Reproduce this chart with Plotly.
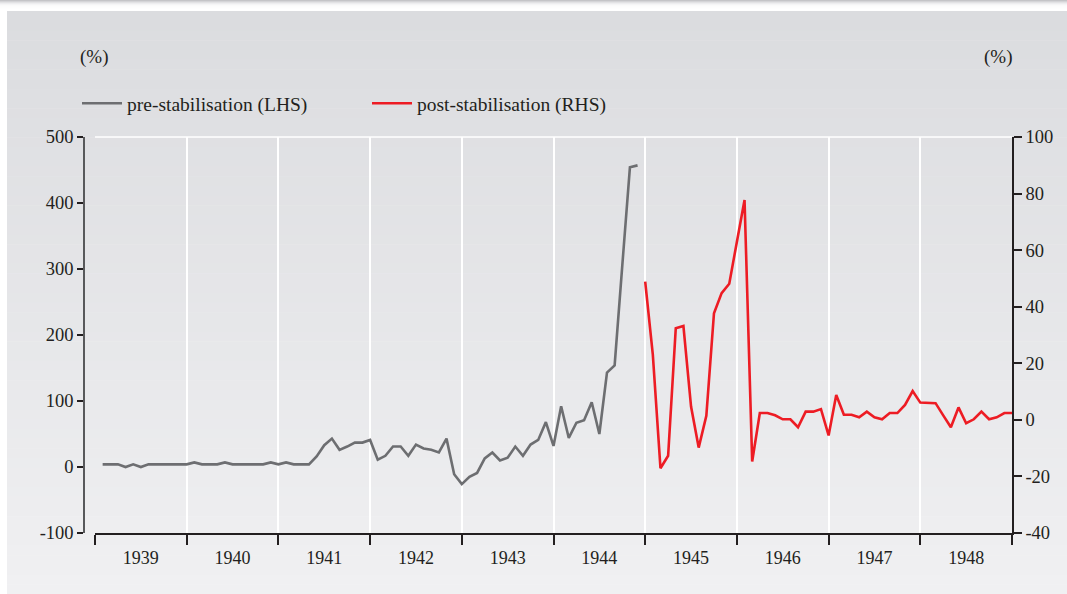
import plotly.graph_objects as go

# ---- data ----
years = ["1939", "1940", "1941", "1942", "1943", "1944", "1945", "1946", "1947", "1948"]

pre_months = list(range(1, 72))
pre_values = [4, 4, 4, 0, 4, 0, 4, 4, 4, 4, 4, 4,
              7, 4, 4, 4, 7, 4, 4, 4, 4, 4, 7, 4,
              7, 4, 4, 4, 16, 33, 43, 26, 31, 37, 37, 41,
              11, 17, 31, 31, 17, 34, 28, 26, 22, 43, -11, -26,
              -15, -9, 13, 22, 10, 14, 31, 17, 34, 41, 68, 32,
              92, 44, 67, 71, 98, 50, 143, 154, 305, 454, 457]

post_months = list(range(72, 121))
post_values = [48.9, 23, -17.1, -12.7, 32.4, 33.2, 4.7, -9.8, 1.4, 37.7, 44.8, 48.1,
               63, 77.7, -14.7, 2.4, 2.4, 1.6, 0.2, 0.2, -2.6, 2.9, 2.9, 3.8,
               -5.5, 8.8, 1.8, 1.8, 0.9, 2.9, 0.9, 0.2, 2.4, 2.4, 5.3, 10.2,
               6.1, 6.1, 5.9, 1.6, -2.6, 4.4, -1.2, 0.2, 2.9, 0.2, 0.9, 2.4, 2.4]

left_ticks = [-100, 0, 100, 200, 300, 400, 500]
right_ticks = [-40, -20, 0, 20, 40, 60, 80, 100]

# ---- geometry (pixels) ----
W, H = 1067, 594
L, R, T, B = 84, 1012, 137, 533
PW, PH = R - L, B - T


def px(x):
    return (x - L) / PW


def py(y):
    return (B - y) / PH


FONT = "'Liberation Serif', 'Times New Roman', Times, serif"
TXT = "#231f20"

fig = go.Figure()
fig.add_trace(go.Scatter(x=pre_months, y=pre_values, mode="lines",
                         name="pre-stabilisation (LHS)",
                         line=dict(color="#6d6e71", width=2.6), yaxis="y"))
fig.add_trace(go.Scatter(x=post_months, y=post_values, mode="lines",
                         name="post-stabilisation (RHS)",
                         line=dict(color="#ed1c24", width=2.6), yaxis="y2"))

shapes = []
# top strip shadow
top_cols = [(196, 196, 199), (212, 212, 215), (226, 226, 228), (237, 237, 239),
            (245, 245, 246), (250, 250, 250), (252, 252, 252), (253, 253, 253),
            (254, 254, 254), (255, 255, 255), (255, 255, 255)]
for i, c in enumerate(top_cols):
    shapes.append(dict(type="rect", xref="paper", yref="paper",
                       x0=px(0), x1=px(W), y0=py(i), y1=py(i + 1),
                       fillcolor="rgb(%d,%d,%d)" % c, line=dict(width=0),
                       layer="below"))
# panel gradient
n = 60
top_c = (219, 220, 223)
bot_c = (240, 240, 242)
y_start = 11
for i in range(n):
    t = i / (n - 1)
    c = tuple(round(top_c[k] + (bot_c[k] - top_c[k]) * t) for k in range(3))
    y0 = y_start + (H - y_start) * i / n
    y1 = y_start + (H - y_start) * (i + 1) / n + 0.5
    shapes.append(dict(type="rect", xref="paper", yref="paper",
                       x0=px(7), x1=px(W), y0=py(y0), y1=py(y1),
                       fillcolor="rgb(%d,%d,%d)" % c, line=dict(width=0),
                       layer="below"))
# white frame line at top of plot
shapes.append(dict(type="line", xref="paper", yref="paper",
                   x0=px(95), x1=1, y0=1, y1=1,
                   line=dict(color="white", width=1.5), layer="below"))

fig.update_layout(
    width=W, height=H,
    margin=dict(l=L, r=W - R, t=T, b=H - B, pad=0),
    paper_bgcolor="white",
    plot_bgcolor="rgba(0,0,0,0)",
    font=dict(family=FONT, size=16, color=TXT),
    shapes=shapes,
    showlegend=True,
    legend=dict(orientation="h", x=px(77), y=py(84), xanchor="left", yanchor="top",
                bgcolor="rgba(0,0,0,0)", font=dict(family=FONT, size=19.5, color=TXT),
                itemwidth=40, entrywidth=235, entrywidthmode="pixels", tracegroupgap=0),
    xaxis=dict(domain=[px(95), 1], range=[0, 120], anchor="y",
               tickmode="array", tickvals=[6 + 12 * i for i in range(10)], ticktext=years,
               ticks="outside", ticklen=8, tickcolor="rgba(0,0,0,0)",
               showgrid=False, zeroline=False,
               showline=True, linecolor="#231f20", linewidth=1.5,
               tickfont=dict(family=FONT, size=18, color=TXT),
               minor=dict(tickmode="array", tickvals=[12 * i for i in range(11)],
                          ticks="outside", ticklen=10, tickcolor="#231f20", tickwidth=1.5,
                          showgrid=True, gridcolor="white", gridwidth=1.5)),
    yaxis=dict(range=[-100, 500], anchor="free", position=0,
               tickmode="array", tickvals=left_ticks, ticktext=[str(v) for v in left_ticks],
               ticks="outside", ticklen=6, tickwidth=1.5, tickcolor="#231f20",
               showline=True, linecolor="#58595b", linewidth=1.5,
               showgrid=False, zeroline=False,
               tickfont=dict(family=FONT, size=18.5, color=TXT)),
    yaxis2=dict(range=[-40, 100], overlaying="y", side="right", anchor="x",
                tickmode="array", tickvals=right_ticks, ticktext=[str(v) for v in right_ticks],
                ticks="outside", ticklen=8, tickwidth=1.5, tickcolor="#231f20",
                showline=True, linecolor="#231f20", linewidth=1.5,
                showgrid=False, zeroline=False,
                tickfont=dict(family=FONT, size=18.5, color=TXT)),
    annotations=[
        dict(text="(%)", xref="paper", yref="paper", x=px(94), y=py(57),
             xanchor="center", yanchor="middle", showarrow=False,
             font=dict(family=FONT, size=19, color=TXT)),
        dict(text="(%)", xref="paper", yref="paper", x=px(998), y=py(57),
             xanchor="center", yanchor="middle", showarrow=False,
             font=dict(family=FONT, size=19, color=TXT)),
    ],
)

fig.write_html("out.html", config={"displayModeBar": False},
               post_script="document.body.style.margin='0px';document.body.style.overflow='hidden';")
